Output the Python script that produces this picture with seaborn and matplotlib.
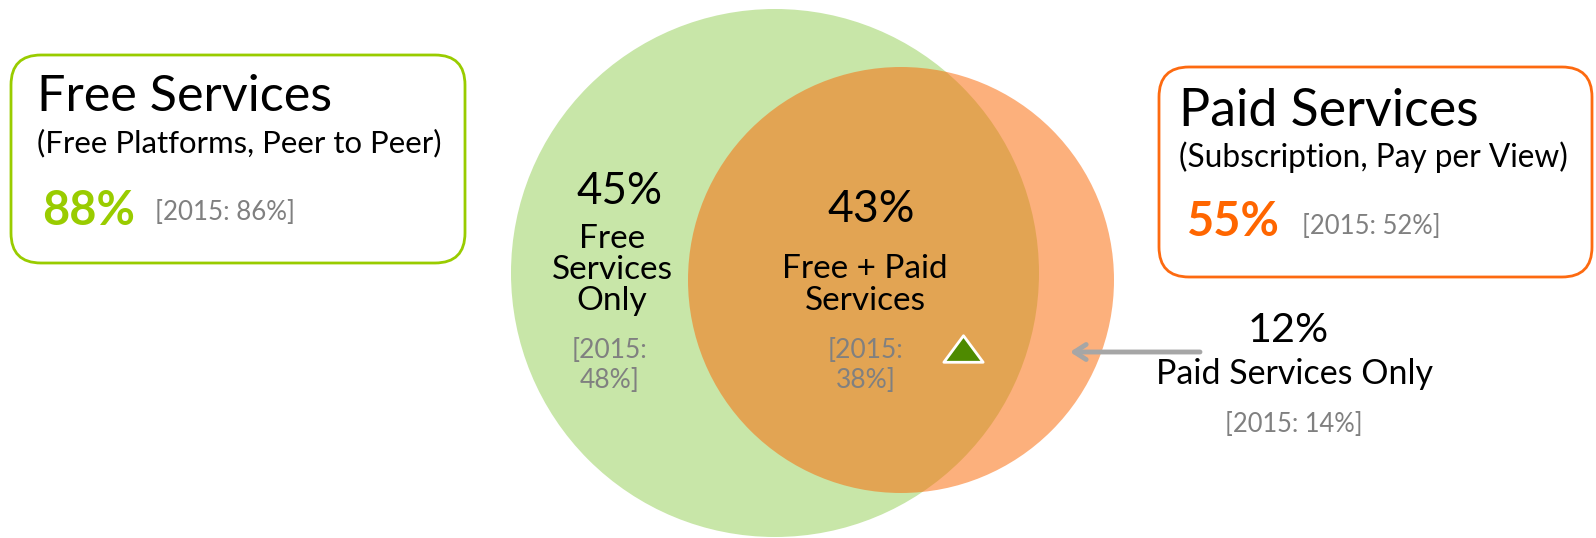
import numpy as np
import matplotlib.pyplot as plt
import seaborn as sns
from matplotlib.patches import Circle, FancyBboxPatch
from matplotlib.path import Path

# ---- data ----
set_names = ["Free Services", "Paid Services"]
set_subtitles = ["(Free Platforms, Peer to Peer)", "(Subscription, Pay per View)"]
set_pct = [88, 55]
set_pct_2015 = [86, 52]

region_names = ["Free\nServices\nOnly", "Free + Paid\nServices", "Paid Services Only"]
region_pct = [45, 43, 12]
region_pct_2015 = [48, 38, 14]

# ---- style ----
sns.set_theme(style="white")
plt.rcParams["font.family"] = ["Lato", "DejaVu Sans"]
plt.rcParams["text.color"] = "black"

GREEN_FILL = "#c8e6a8"
ORANGE = "#fb6a08"
GREEN_EDGE = "#99cc00"
ORANGE_EDGE = "#fd6a10"
GRAY = "#808080"

W, H = 1596, 538
fig = plt.figure(figsize=(W / 100, H / 100), dpi=100)
ax = fig.add_axes([0, 0, 1, 1])
ax.set_xlim(0, W)
ax.set_ylim(H, 0)
ax.set_aspect("equal")
ax.axis("off")

renderer = fig.canvas.get_renderer()


def fit_text(x, y, s, width, ha="left", fs0=20, **kw):
    # size text so it spans `width` pixels
    t = ax.text(x, y, s, ha=ha, va="center", fontsize=fs0, **kw)
    w = t.get_window_extent(renderer).width
    t.set_fontsize(fs0 * width / w)
    return t


# ---- venn circles ----
ax.add_patch(Circle((775, 273), 264, facecolor=GREEN_FILL, edgecolor="none", zorder=1))
ax.add_patch(Circle((901, 280), 213, facecolor=ORANGE, alpha=0.53, edgecolor="none", zorder=2))

# ---- legend boxes ----
ax.add_patch(FancyBboxPatch((11, 55), 454, 208, boxstyle="round,pad=0,rounding_size=30",
                            facecolor="white", edgecolor=GREEN_EDGE, linewidth=2, zorder=3))
ax.add_patch(FancyBboxPatch((1159, 67), 433, 210, boxstyle="round,pad=0,rounding_size=30",
                            facecolor="white", edgecolor=ORANGE_EDGE, linewidth=2, zorder=3))

boxes = [
    dict(x=37, title_y=97, title_w=296, sub_y=143, sub_w=405, pct_x=42, pct_y=211, pct_w=93,
         old_x=155, old_y=213, old_w=140, color=GREEN_EDGE),
    dict(x=1179, title_y=111, title_w=301, sub_y=157, sub_w=389, pct_x=1187, pct_y=222, pct_w=93,
         old_x=1302, old_y=226, old_w=138, color="#ff6600"),
]
for b, name, sub, p, p_old in zip(boxes, set_names, set_subtitles, set_pct, set_pct_2015):
    fit_text(b["x"], b["title_y"], name, b["title_w"], zorder=4)
    fit_text(b["x"], b["sub_y"], sub, b["sub_w"], zorder=4)
    fit_text(b["pct_x"], b["pct_y"], f"{p}%", b["pct_w"], color=b["color"], fontweight="bold", zorder=4)
    fit_text(b["old_x"], b["old_y"], f"[2015: {p_old}%]", b["old_w"], color=GRAY, zorder=4)

# ---- region labels ----
# free only
fit_text(620, 192, f"{region_pct[0]}%", 86, ha="center", zorder=4)
ax.text(612, 270, region_names[0], ha="center", va="center", fontsize=24,
        linespacing=1.05, zorder=4)
ax.text(610, 365, f"[2015:\n{region_pct_2015[0]}%]", ha="center", va="center",
        fontsize=19, color=GRAY, linespacing=1.25, zorder=4)

# free + paid
fit_text(871, 210, f"{region_pct[1]}%", 87, ha="center", zorder=4)
ax.text(865, 285, region_names[1], ha="center", va="center", fontsize=24,
        linespacing=1.05, zorder=4)
ax.text(866, 365, f"[2015:\n{region_pct_2015[1]}%]", ha="center", va="center",
        fontsize=19, color=GRAY, linespacing=1.25, zorder=4)

# growth marker (2015 -> now went up)
tri = Path([(-1, -0.65), (1, -0.65), (0, 0.7), (-1, -0.65)],
           [Path.MOVETO, Path.LINETO, Path.LINETO, Path.CLOSEPOLY])
sns.scatterplot(x=[963], y=[349], marker=tri, s=800, color="#4e8a00",
                edgecolor="white", linewidth=2, ax=ax, zorder=5, legend=False)

# paid only
fit_text(1288, 331, f"{region_pct[2]}%", 81, ha="center", zorder=4)
fit_text(1294, 374, region_names[2], 278, ha="center", zorder=4)
fit_text(1294, 424, f"[2015: {region_pct_2015[2]}%]", 138, ha="center", color=GRAY, zorder=4)

ax.annotate("", xy=(1070, 352), xytext=(1200, 352),
            arrowprops=dict(arrowstyle="->,head_length=0.7,head_width=0.45",
                            color="#a6a6a6", lw=3.5, shrinkA=0, shrinkB=0), zorder=4)

fig.savefig("out.png", dpi=100)
